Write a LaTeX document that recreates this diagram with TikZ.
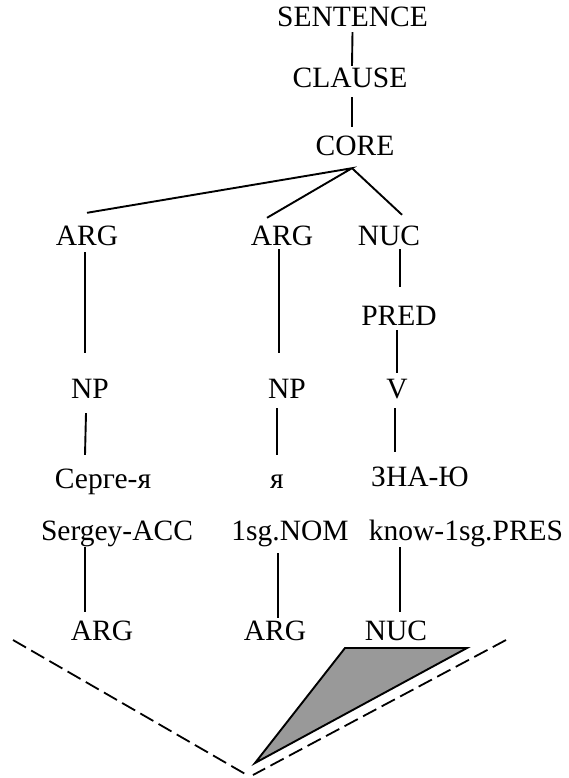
\documentclass[tikz,border=0pt]{standalone}
\usepackage{fontspec}
\setmainfont{Liberation Serif}
\usetikzlibrary{positioning}
\tikzset{%
    lbl/.style={anchor=base, inner sep=0pt, text height=19pt, text depth=0pt, font=\fontsize{29.5}{34}\selectfont},
    edg/.style={line width = 1.9pt},
    das/.style={line width = 1.8pt, dash pattern=on 15pt off 6pt},
}
\begin{document}
\begin{tikzpicture}[x=1pt, y=-1pt]
    \useasboundingbox (0,0) rectangle (568,778);
    % clause layer
    \node [lbl] (sentence) at (352.5,27) {SENTENCE};
    \node [lbl] (clause) at (350,88) {CLAUSE};
    \node [lbl] (core) at (355,156) {CORE};
    \node [lbl] (arga) at (87,245) {ARG};
    \node [lbl] (argb) at (282,245) {ARG};
    \node [lbl] (nuc) at (389,245) {NUC};
    \node [lbl] (pred) at (399,325) {PRED};
    \node [lbl] (npa) at (90,398) {NP};
    \node [lbl] (npb) at (287,398) {NP};
    \node [lbl] (verb) at (397,398) {V};
    % words and glosses
    \node [lbl] (cyra) at (103,488) {Серге-я};
    \node [lbl] (cyrb) at (277,488) {я};
    \node [lbl] (cyrc) at (420,486) {ЗНА-Ю};
    \node [lbl] (glsa) at (117,540) {Sergey-ACC};
    \node [lbl] (glsb) at (290,540) {1sg.NOM};
    \node [lbl] (glsc) at (466,540) {know-1sg.PRES};
    % semantic layer
    \node [lbl] (rarga) at (102,640) {ARG};
    \node [lbl] (rargb) at (275,640) {ARG};
    \node [lbl] (rnuc) at (396,640) {NUC};
    \coordinate (apex) at ([shift={(-3,12)}]core.south);
    \draw [edg] ([shift={(0,5)}]sentence.south) -- ([shift={(2,-3)}]clause.north);
    \draw [edg] ([shift={(2,9)}]clause.south) -- ([shift={(-3,-10)}]core.north);
    \draw [edg] ([shift={(0,-13)}]arga.north) -- (apex) -- ([shift={(-15,-8)}]argb.north);
    \draw [edg] (apex) -- ([shift={(13,-11)}]nuc.north);
    \draw [edg] ([shift={(-2,7)}]arga.south) -- ([shift={(-5,-26)}]npa.north);
    \draw [edg] ([shift={(-3,4)}]argb.south) -- ([shift={(-8,-26)}]npb.north);
    \draw [edg] ([shift={(11,4)}]nuc.south) -- ([shift={(1,-19)}]pred.north);
    \draw [edg] ([shift={(-2,5)}]pred.south) -- ([shift={(0,-6)}]verb.north);
    \draw [edg] ([shift={(-4,15)}]npa.south) -- ([shift={(-18,-14)}]cyra.north);
    \draw [edg] ([shift={(-10,10)}]npb.south) -- ([shift={(0,-14)}]cyrb.north);
    \draw [edg] ([shift={(-2,10)}]verb.south) -- ([shift={(-25,-15)}]cyrc.north);
    \draw [edg] ([shift={(-32,7)}]glsa.south) -- ([shift={(-17,-9)}]rarga.north);
    \draw [edg] ([shift={(-12,13)}]glsb.south) -- ([shift={(3,-3)}]rargb.north);
    \draw [edg] ([shift={(-66,7)}]glsc.south) -- ([shift={(4,-9)}]rnuc.north);
    % operator projection
    \draw [das] (13,640) -- (247,775);
    \draw [das] (506,640) -- (253,775);
    \draw [edg, fill=black!40, line join=miter] (345,648) -- (467,648) -- (255,763) -- cycle;
\end{tikzpicture}
\end{document}
